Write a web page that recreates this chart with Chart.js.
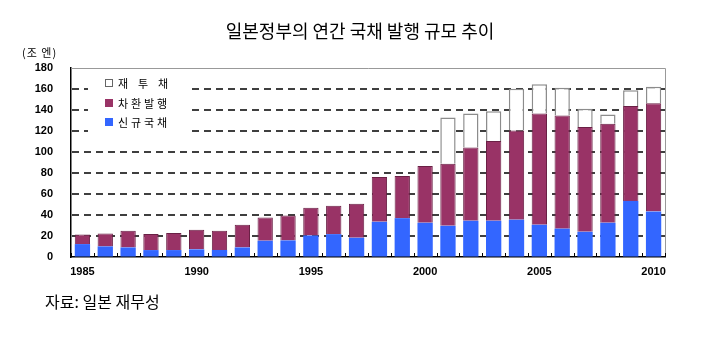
<!DOCTYPE html>
<html>
<head>
<meta charset="utf-8">
<script src="https://cdn.jsdelivr.net/npm/chart.js@4/dist/chart.umd.min.js"></script>
<style>
html,body{margin:0;padding:0;background:#fff;}
#wrap{position:relative;width:720px;height:360px;overflow:hidden;background:#fff;}
#title{position:absolute;left:0;width:720px;top:21px;text-align:center;font-size:18px;line-height:18px;font-family:"Noto Sans CJK KR","Noto Sans",sans-serif;color:#000;}
#unit{position:absolute;left:22px;top:47px;font-size:11px;line-height:11px;font-family:"Noto Sans CJK KR",sans-serif;letter-spacing:1px;color:#000;}
#source{position:absolute;left:45px;top:293px;font-size:16px;line-height:16px;font-family:"Noto Sans CJK KR",sans-serif;color:#000;}
canvas{position:absolute;left:0;top:0;}
</style>
</head>
<body>
<div id="wrap">
<canvas id="c" width="720" height="360"></canvas>
<div id="title">일본정부의 연간 국채 발행 규모 추이</div>
<div id="unit">(조 엔)</div>
<div id="source">자료: 일본 재무성</div>
</div>
<script>
// ---- data ----
const years = ['1985','1986','1987','1988','1989','1990','1991','1992','1993','1994','1995','1996','1997','1998','1999','2000','2001','2002','2003','2004','2005','2006','2007','2008','2009','2010'];
const xTickLabels = ['1985','1990','1995','2000','2005','2010'];
const yTickValues = [0,20,40,60,80,100,120,140,160,180];
const newBonds = [12.3,10.1,9.1,6.6,6.6,7.3,6.7,9.1,15.5,15.8,20.5,21.8,18.3,33.5,37.0,32.6,29.7,34.5,34.5,35.5,30.7,27.0,24.0,32.6,53.4,43.3];
const refundingBonds = [9.2,12.3,15.9,15.2,16.2,18.6,18.3,21.6,22.1,23.7,26.3,26.9,32.3,42.7,40.2,54.1,59.2,69.9,76.0,84.9,105.9,107.8,99.9,94.2,90.3,103.1];
const filpBonds = [null,null,null,null,null,null,null,null,null,null,null,null,null,null,null,null,44.0,32.3,28.4,39.8,27.9,26.5,17.2,9.0,15.0,15.8];
const legendLabels = ['재 투 채','차환발행','신규국채'];

const BLUE = '#3366ff', MAROON = '#993366', GREY = '#8c8c8c';

const extras = {
  id: 'extras',
  beforeDatasetsDraw(chart) {
    const {ctx, chartArea: a, scales: {y}} = chart;
    ctx.save();
    // dashed horizontal gridlines from the y scale
    ctx.strokeStyle = '#000';
    ctx.lineWidth = 1.5;
    ctx.setLineDash([7, 5]);
    yTickValues.forEach(v => {
      if (v === y.min || v === y.max) return;
      const py = Math.round(y.getPixelForValue(v));
      ctx.beginPath();
      ctx.moveTo(a.left + 1, py);
      ctx.lineTo(a.right, py);
      ctx.stroke();
    });
    ctx.setLineDash([]);
    // legend backdrop
    ctx.fillStyle = '#fff';
    ctx.fillRect(a.left + 17, a.top + 4, 102, 66);
    ctx.restore();
  },
  afterDraw(chart) {
    const {ctx, chartArea: a, scales: {x}} = chart;
    ctx.save();
    // top and right frame
    ctx.strokeStyle = '#999';
    ctx.lineWidth = 1;
    ctx.beginPath();
    ctx.moveTo(a.left, a.top + 0.5);
    ctx.lineTo(a.right + 0.5, a.top + 0.5);
    ctx.lineTo(a.right + 0.5, a.bottom);
    ctx.stroke();
    // inward category ticks on bottom axis
    ctx.strokeStyle = '#000';
    ctx.beginPath();
    const n = years.length;
    const step = (x.getPixelForValue(n - 1) - x.getPixelForValue(0)) / (n - 1);
    for (let i = 0; i <= n; i++) {
      const px = Math.round(x.getPixelForValue(0) - step / 2 + i * step) + 0.5;
      ctx.moveTo(px, a.bottom);
      ctx.lineTo(px, a.bottom - 4);
    }
    ctx.stroke();
    // legend
    const fills = ['#ffffff', MAROON, BLUE];
    const strokes = ['#666', MAROON, BLUE];
    const ys = [a.top + 15, a.top + 35, a.top + 54];
    ctx.font = '11px "Noto Sans CJK KR", sans-serif';
    ctx.textBaseline = 'middle';
    legendLabels.forEach((lab, i) => {
      const bx = a.left + 34, by = ys[i] - 4;
      ctx.fillStyle = fills[i];
      ctx.fillRect(bx, by, 8, 8);
      ctx.strokeStyle = strokes[i];
      ctx.strokeRect(bx + 0.5, by + 0.5, 7, 7);
      ctx.fillStyle = '#000';
      let tx = a.left + 47;
      for (const ch of lab) {
        if (ch === ' ') { tx += 7; continue; }
        ctx.fillText(ch, tx, ys[i] + 0.5);
        tx += 13;
      }
    });
    ctx.restore();
  }
};

new Chart(document.getElementById('c'), {
  type: 'bar',
  data: {
    labels: years,
    datasets: [
      {label: legendLabels[2], data: newBonds, backgroundColor: BLUE, borderColor: BLUE, borderWidth: 0},
      {label: legendLabels[1], data: refundingBonds, backgroundColor: MAROON, borderColor: '#6a2045', borderWidth: 1},
      {label: legendLabels[0], data: filpBonds, backgroundColor: '#ffffff', borderColor: GREY, borderWidth: 1.5}
    ]
  },
  options: {
    responsive: false,
    animation: false,
    devicePixelRatio: 1,
    layout: {padding: {top: 68, right: 55, bottom: 70, left: 0}},
    datasets: {bar: {categoryPercentage: 1, barPercentage: 0.67}},
    plugins: {legend: {display: false}, title: {display: false}, tooltip: {enabled: false}},
    scales: {
      x: {
        stacked: true,
        grid: {display: false, drawTicks: false},
        border: {display: true, color: '#000', width: 1.5},
        ticks: {
          autoSkip: false, maxRotation: 0, minRotation: 0, padding: 8,
          color: '#000', font: {family: '"Liberation Sans", Arial, sans-serif', size: 11, weight: 'bold'},
          callback(v) { const l = this.getLabelForValue(v); return xTickLabels.includes(l) ? l : ''; }
        },
        afterFit(s) { s.height = 33; }
      },
      y: {
        stacked: true,
        min: 0, max: 180,
        afterBuildTicks(s) { s.ticks = yTickValues.map(v => ({value: v})); },
        grid: {drawOnChartArea: false, drawTicks: false},
        border: {display: true, color: '#000', width: 1.5},
        ticks: {
          padding: 18, color: '#000',
          font: {family: '"Liberation Sans", Arial, sans-serif', size: 11, weight: 'bold'}
        },
        afterFit(s) { s.width = 71; }
      }
    }
  },
  plugins: [extras]
});
</script>
</body>
</html>
